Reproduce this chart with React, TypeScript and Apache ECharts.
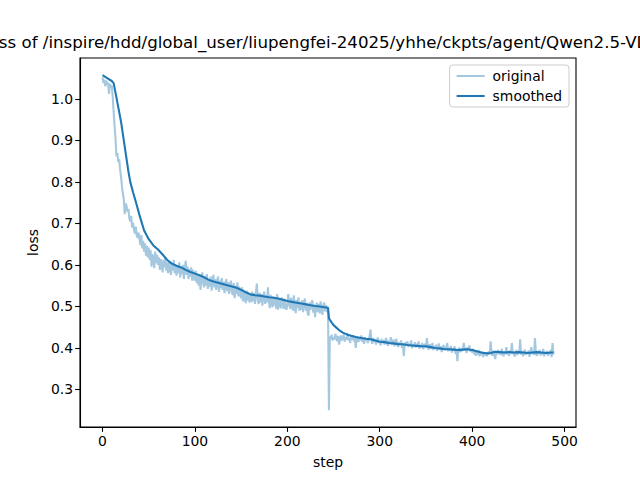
import React, { useEffect, useRef } from "react";
import * as echarts from "echarts";

const titleText =
  "loss of /inspire/hdd/global_user/liupengfei-24025/yhhe/ckpts/agent/Qwen2.5-VL";
const xTicks = [0, 100, 200, 300, 400, 500];
const yTicks = [0.3, 0.4, 0.5, 0.6, 0.7, 0.8, 0.9, 1.0];
const seriesNames = ["original", "smoothed"];

// original loss, index = step
const originalLoss = [
  1.052, 1.038, 1.046, 1.030, 1.044, 1.034, 1.040, 1.012, 1.036, 1.028,
  1.032, 1.005, 0.968, 0.935, 0.905, 0.862, 0.870, 0.848, 0.855, 0.830,
  0.812, 0.790, 0.772, 0.758, 0.722, 0.748, 0.742, 0.728, 0.735, 0.712,
  0.705, 0.718, 0.690, 0.702, 0.684, 0.676, 0.692, 0.670, 0.665, 0.678,
  0.662, 0.648, 0.672, 0.640, 0.658, 0.632, 0.652, 0.622, 0.646, 0.618,
  0.642, 0.612, 0.636, 0.596, 0.626, 0.614, 0.592, 0.632, 0.604, 0.624,
  0.600, 0.618, 0.588, 0.614, 0.602, 0.582, 0.612, 0.594, 0.618, 0.586,
  0.606, 0.580, 0.610, 0.592, 0.576, 0.604, 0.586, 0.612, 0.580, 0.600,
  0.574, 0.598, 0.580, 0.606, 0.570, 0.594, 0.578, 0.600, 0.566, 0.590,
  0.610, 0.576, 0.596, 0.566, 0.590, 0.572, 0.594, 0.562, 0.588, 0.570,
  0.562, 0.586, 0.556, 0.578, 0.550, 0.576, 0.540, 0.570, 0.582, 0.554,
  0.546, 0.574, 0.550, 0.578, 0.542, 0.566, 0.548, 0.572, 0.538, 0.562,
  0.576, 0.546, 0.566, 0.540, 0.560, 0.572, 0.535, 0.562, 0.544, 0.568,
  0.540, 0.560, 0.532, 0.556, 0.566, 0.536, 0.558, 0.530, 0.552, 0.562,
  0.534, 0.528, 0.556, 0.520, 0.550, 0.530, 0.558, 0.524, 0.548, 0.528,
  0.520, 0.546, 0.512, 0.540, 0.518, 0.508, 0.538, 0.514, 0.534, 0.510,
  0.530, 0.510, 0.536, 0.512, 0.532, 0.506, 0.534, 0.555, 0.514, 0.506,
  0.533, 0.510, 0.530, 0.502, 0.525, 0.536, 0.506, 0.527, 0.510, 0.546,
  0.512, 0.496, 0.528, 0.506, 0.498, 0.524, 0.502, 0.518, 0.494, 0.530,
  0.492, 0.520, 0.504, 0.496, 0.522, 0.506, 0.494, 0.519, 0.500, 0.492,
  0.502, 0.530, 0.508, 0.494, 0.521, 0.503, 0.490, 0.527, 0.498, 0.484,
  0.516, 0.496, 0.522, 0.489, 0.511, 0.492, 0.515, 0.486, 0.509, 0.519,
  0.490, 0.508, 0.483, 0.478, 0.510, 0.492, 0.507, 0.515, 0.485, 0.504,
  0.474, 0.500, 0.509, 0.486, 0.506, 0.483, 0.512, 0.490, 0.480, 0.504,
  0.509, 0.488, 0.503, 0.486, 0.496, 0.250, 0.428, 0.422, 0.432, 0.418,
  0.426, 0.420, 0.434, 0.424, 0.416, 0.429, 0.408, 0.422, 0.430, 0.418,
  0.425, 0.432, 0.415, 0.426, 0.420, 0.436, 0.418, 0.424, 0.412, 0.428,
  0.420, 0.431, 0.416, 0.424, 0.400, 0.421, 0.428, 0.414, 0.425, 0.418,
  0.430, 0.415, 0.422, 0.410, 0.426, 0.418, 0.423, 0.412, 0.420, 0.428,
  0.444, 0.418, 0.410, 0.424, 0.415, 0.420, 0.408, 0.419, 0.425, 0.412,
  0.418, 0.406, 0.422, 0.413, 0.419, 0.408, 0.416, 0.424, 0.410, 0.405,
  0.418, 0.411, 0.426, 0.407, 0.415, 0.420, 0.404, 0.413, 0.422, 0.409,
  0.402, 0.414, 0.408, 0.418, 0.400, 0.411, 0.380, 0.405, 0.414, 0.408,
  0.416, 0.402, 0.410, 0.406, 0.418, 0.399, 0.409, 0.404, 0.414, 0.401,
  0.410, 0.403, 0.416, 0.398, 0.407, 0.402, 0.412, 0.397, 0.405, 0.410,
  0.400, 0.424, 0.402, 0.396, 0.409, 0.403, 0.398, 0.412, 0.395, 0.404,
  0.399, 0.408, 0.393, 0.402, 0.411, 0.396, 0.404, 0.390, 0.401, 0.407,
  0.395, 0.403, 0.398, 0.412, 0.392, 0.400, 0.394, 0.405, 0.389, 0.398,
  0.393, 0.404, 0.386, 0.397, 0.368, 0.395, 0.401, 0.390, 0.398, 0.392,
  0.400, 0.412, 0.394, 0.399, 0.388, 0.402, 0.396, 0.406, 0.391, 0.397,
  0.389, 0.398, 0.385, 0.393, 0.381, 0.390, 0.384, 0.395, 0.380, 0.388,
  0.383, 0.391, 0.378, 0.387, 0.382, 0.389, 0.380, 0.386, 0.392, 0.384,
  0.416, 0.388, 0.381, 0.393, 0.385, 0.373, 0.390, 0.384, 0.395, 0.386,
  0.391, 0.383, 0.398, 0.387, 0.380, 0.392, 0.386, 0.402, 0.384, 0.389,
  0.381, 0.394, 0.387, 0.412, 0.385, 0.391, 0.379, 0.388, 0.395, 0.383,
  0.390, 0.386, 0.421, 0.384, 0.392, 0.380, 0.389, 0.396, 0.383, 0.390,
  0.386, 0.394, 0.379, 0.388, 0.402, 0.385, 0.391, 0.383, 0.424, 0.387,
  0.381, 0.392, 0.386, 0.395, 0.382, 0.389, 0.384, 0.398, 0.380, 0.390,
  0.386, 0.393, 0.381, 0.389, 0.385, 0.396, 0.378, 0.412, 0.384,
];

const smoothSteps = [
  0, 5, 10, 12, 14, 17, 20, 22, 25, 28, 30, 33, 36, 40, 45, 50, 55, 60, 65, 70,
  75, 80, 85, 90, 95, 100, 105, 110, 115, 120, 125, 130, 135, 140, 145, 150,
  155, 160, 165, 170, 175, 180, 185, 190, 195, 200, 205, 210, 215, 220, 225,
  230, 235, 240, 244, 245, 246, 248, 250, 253, 256, 260, 265, 270, 275, 280,
  285, 290, 295, 300, 305, 310, 315, 320, 325, 330, 335, 340, 345, 350, 355,
  360, 365, 370, 375, 380, 385, 390, 395, 400, 405, 410, 415, 420, 425, 430,
  435, 440, 445, 450, 455, 460, 465, 470, 475, 480, 485, 488,
];
const smoothLoss = [
  1.057, 1.050, 1.043, 1.038, 1.015, 0.980, 0.945, 0.915, 0.870, 0.825, 0.800,
  0.775, 0.752, 0.720, 0.683, 0.662, 0.647, 0.637, 0.625, 0.612, 0.603, 0.598,
  0.594, 0.588, 0.583, 0.579, 0.575, 0.570, 0.564, 0.560, 0.557, 0.554, 0.551,
  0.548, 0.545, 0.540, 0.534, 0.529, 0.527, 0.526, 0.524, 0.522, 0.521, 0.519,
  0.516, 0.513, 0.511, 0.509, 0.507, 0.505, 0.503, 0.501, 0.500, 0.498, 0.497,
  0.472, 0.468, 0.461, 0.455, 0.449, 0.443, 0.437, 0.432, 0.429, 0.426, 0.424,
  0.422, 0.421, 0.418, 0.415, 0.414, 0.412, 0.411, 0.409, 0.409, 0.407, 0.406,
  0.405, 0.404, 0.404, 0.402, 0.400, 0.399, 0.397, 0.397, 0.396, 0.395, 0.396,
  0.397, 0.395, 0.392, 0.389, 0.387, 0.388, 0.391, 0.390, 0.389, 0.390, 0.389,
  0.390, 0.389, 0.388, 0.389, 0.390, 0.389, 0.388, 0.389, 0.389,
];

const FONT = "DejaVu Sans";
const LINE_W = 2.08;
const SPINE_W = 1.1;
const TICK_LEN = 4.86;

export default function App() {
  const ref = useRef<HTMLDivElement>(null);
  useEffect(() => {
    if (!ref.current) return;
    const chart = echarts.init(ref.current, undefined, { renderer: "svg" });
    const origData = originalLoss.map((v, i) => [i, v]);
    const smoothData = smoothSteps.map((s, i) => [s, smoothLoss[i]]);
    chart.setOption({
      animation: false,
      backgroundColor: "#ffffff",
      grid: {
        left: 80,
        right: 64,
        top: 58,
        bottom: 53,
        show: true,
        borderColor: "#000000",
        borderWidth: SPINE_W,
        backgroundColor: "transparent",
      },
      graphic: [
        {
          type: "text",
          left: -16,
          top: 34,
          style: {
            text: titleText,
            font: `16.67px "${FONT}"`,
            fill: "#000000",
          },
        },
      ],
      legend: {
        data: seriesNames,
        orient: "vertical",
        right: 71,
        top: 65,
        padding: [4, 7, 4, 7],
        itemGap: 6,
        itemWidth: 28,
        itemHeight: LINE_W,
        icon: "rect",
        backgroundColor: "rgba(255,255,255,0.8)",
        borderColor: "#cccccc",
        borderWidth: 1,
        borderRadius: 3,
        textStyle: {
          fontFamily: FONT,
          fontSize: 13.9,
          color: "#000000",
          padding: [0, 0, 0, 3],
        },
      },
      xAxis: {
        type: "value",
        min: -24.4,
        max: 512.4,
        name: "step",
        nameLocation: "middle",
        nameGap: 28,
        nameTextStyle: { fontFamily: FONT, fontSize: 13.9, color: "#000000" },
        axisLine: {
          show: true,
          onZero: false,
          lineStyle: { color: "#000000", width: SPINE_W },
        },
        axisTick: {
          show: true,
          length: TICK_LEN,
          customValues: xTicks,
          lineStyle: { color: "#000000", width: SPINE_W },
        },
        axisLabel: {
          customValues: xTicks,
          margin: 7,
          fontFamily: FONT,
          fontSize: 13.9,
          color: "#000000",
        },
        splitLine: { show: false },
      },
      yAxis: {
        type: "value",
        min: 0.2096,
        max: 1.0984,
        name: "loss",
        nameLocation: "middle",
        nameRotate: 90,
        nameGap: 36,
        nameTextStyle: { fontFamily: FONT, fontSize: 13.9, color: "#000000" },
        axisLine: {
          show: true,
          onZero: false,
          lineStyle: { color: "#000000", width: SPINE_W },
        },
        axisTick: {
          show: true,
          length: TICK_LEN,
          customValues: yTicks,
          lineStyle: { color: "#000000", width: SPINE_W },
        },
        axisLabel: {
          customValues: yTicks,
          margin: 7,
          fontFamily: FONT,
          fontSize: 13.9,
          color: "#000000",
          formatter: (v: number) => v.toFixed(1),
        },
        splitLine: { show: false },
      },
      series: [
        {
          name: seriesNames[0],
          type: "line",
          data: origData,
          showSymbol: false,
          symbol: "none",
          color: "#a5c8e1",
          lineStyle: { color: "#a5c8e1", width: LINE_W },
          z: 2,
        },
        {
          name: seriesNames[1],
          type: "line",
          data: smoothData,
          showSymbol: false,
          symbol: "none",
          color: "#1f77b4",
          lineStyle: { color: "#1f77b4", width: LINE_W },
          z: 3,
        },
      ],
    });
    return () => chart.dispose();
  }, []);
  return (
    <div
      ref={ref}
      style={{ position: "fixed", left: 0, top: 0, width: 640, height: 480 }}
    />
  );
}
